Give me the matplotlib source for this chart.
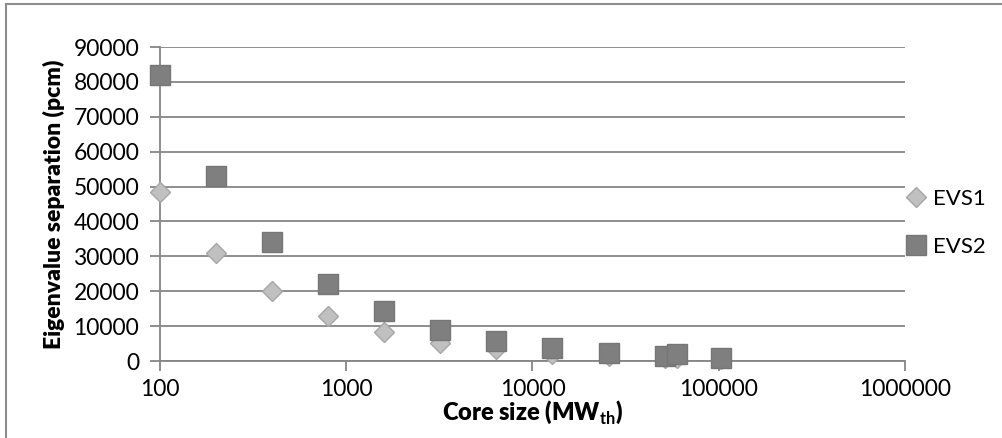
import matplotlib.pyplot as plt
import matplotlib.ticker as ticker
from matplotlib.patches import Rectangle

plt.rcParams['font.family'] = ['Lato', 'DejaVu Sans']
plt.rcParams['mathtext.fontset'] = 'custom'
plt.rcParams['mathtext.bf'] = 'Lato:bold'
plt.rcParams['mathtext.rm'] = 'Lato'

# core size (MWth) and eigenvalue separations (pcm)
core_size = [100, 200, 400, 800, 1600, 3200, 6400, 12800, 25600, 51200, 60000, 102400]
evs1 = [48500, 31000, 20000, 12800, 8200, 5300, 3300, 2100, 1300, 800, 1000, 500]
evs2 = [82000, 53000, 34000, 22000, 14200, 8800, 5800, 3800, 2400, 1500, 2000, 1000]

y_ticks = [0, 10000, 20000, 30000, 40000, 50000, 60000, 70000, 80000, 90000]

fig = plt.figure(figsize=(10.03, 4.38), dpi=100)
ax = fig.add_axes([160/1003, 1-361/438, 745/1003, 314/438])

grid_col = '#868686'
ax.plot(core_size, evs1, linestyle='none', marker='D', markersize=10.5,
        markerfacecolor='#C0C0C0', markeredgecolor='#A6A6A6', markeredgewidth=1,
        label='EVS1', zorder=3, clip_on=False)
ax.plot(core_size, evs2, linestyle='none', marker='s', markersize=14,
        markerfacecolor='#7F7F7F', markeredgecolor='#767676', markeredgewidth=1,
        label='EVS2', zorder=4, clip_on=False)

ax.set_xscale('log')
ax.set_xlim(100, 1000000)
ax.set_ylim(0, 90000)
ax.set_yticks(y_ticks)
ax.yaxis.set_major_formatter(ticker.FuncFormatter(lambda v, p: '%d' % v))
ax.xaxis.set_major_formatter(ticker.FuncFormatter(lambda v, p: '%d' % v))
ax.xaxis.set_minor_locator(ticker.NullLocator())
ax.grid(axis='y', color=grid_col, linewidth=1.3)
ax.set_axisbelow(True)

for s in ['top', 'right']:
    ax.spines[s].set_visible(False)
for s in ['left', 'bottom']:
    ax.spines[s].set_color(grid_col)
    ax.spines[s].set_linewidth(1.3)

ax.tick_params(axis='y', length=7, width=1.3, color=grid_col, labelsize=16.5, pad=8)
ax.tick_params(axis='x', length=7, width=1.3, color=grid_col, labelsize=16.5, pad=6)

ax.set_ylabel('Eigenvalue separation (pcm)', fontsize=16.5, fontweight='heavy', labelpad=6)
ax.set_xlabel(r'Core size (MW$_{\mathbf{th}}$)', fontsize=17, fontweight='heavy', labelpad=-1)

leg = ax.legend(loc='center left', bbox_to_anchor=(0.99, 0.44), frameon=False,
                fontsize=16, handletextpad=0.3, labelspacing=1.25, handlelength=0.9,
                borderaxespad=0.0)

# outer frame
fig.patches.append(Rectangle((6/1003, -0.05), 1.1, 1-4/438+0.05, transform=fig.transFigure,
                             fill=False, edgecolor='#8C8C8C', linewidth=1.5))

fig.savefig('out.png', dpi=100)
